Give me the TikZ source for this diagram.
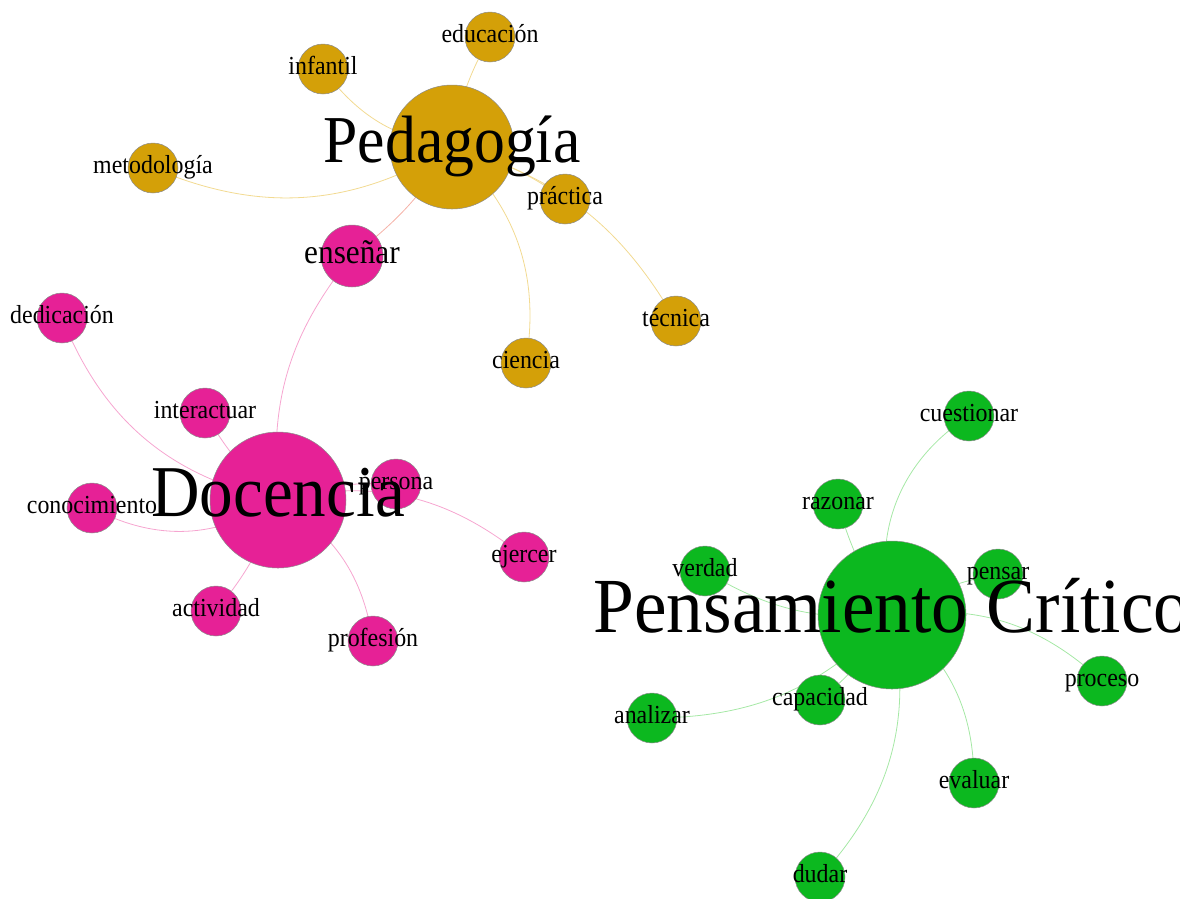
\documentclass[tikz,border=0pt]{standalone}
\usepackage{fontspec}
\setmainfont{Liberation Serif}
\usetikzlibrary{backgrounds}
\definecolor{cgold}{RGB}{212,160,8}
\definecolor{cpink}{RGB}{230,33,150}
\definecolor{cgreen}{RGB}{12,184,31}
\definecolor{egold}{RGB}{242,218,145}
\definecolor{epink}{RGB}{246,165,208}
\definecolor{egreen}{RGB}{165,232,165}
\definecolor{esalmon}{RGB}{245,178,168}
\newcommand{\hsq}[1]{\scalebox{0.92}[1]{#1}}
\tikzset{
  dot/.style={circle, draw=black!45, line width=0.5pt, inner sep=0pt, minimum size=50pt},
  golddot/.style={dot, fill=cgold},
  pinkdot/.style={dot, fill=cpink},
  greendot/.style={dot, fill=cgreen},
  lbl/.style={inner sep=0pt, anchor=base, text=black, font=\fontsize{#1}{#1}\selectfont, yshift=-0.23*#1 pt},
  small/.style={lbl=26},
  ge/.style={draw=egold, line width=0.8pt},
  pe/.style={draw=epink, line width=0.8pt},
  gre/.style={draw=egreen, line width=0.8pt},
  se/.style={draw=esalmon, line width=0.8pt},
}
\begin{document}
\begin{tikzpicture}[x=1pt,y=-1pt]
\useasboundingbox (0,0) rectangle (1180,898);
\clip (0,0) rectangle (1180,898);
% circles
\node[golddot, minimum size=124pt] (ped) at (452,147) {};
\node[golddot] (edu) at (490,37) {};
\node[golddot] (inf) at (323,69) {};
\node[golddot] (met) at (153,168) {};
\node[golddot] (pra) at (565,199) {};
\node[golddot] (tec) at (676,321) {};
\node[golddot] (cie) at (526,363) {};
\node[pinkdot, minimum size=136pt] (doc) at (278,500) {};
\node[pinkdot, minimum size=62pt] (ens) at (352,256) {};
\node[pinkdot] (ded) at (62,318) {};
\node[pinkdot] (int) at (205,413) {};
\node[pinkdot] (per) at (396,484) {};
\node[pinkdot] (con) at (92,508) {};
\node[pinkdot] (eje) at (524,557) {};
\node[pinkdot] (act) at (216,611) {};
\node[pinkdot] (pro) at (373,641) {};
\node[greendot, minimum size=148pt] (pc) at (892,615) {};
\node[greendot] (cue) at (969,416) {};
\node[greendot] (raz) at (838,504) {};
\node[greendot] (ver) at (705,571) {};
\node[greendot] (pen) at (998,574) {};
\node[greendot] (proc) at (1102,681) {};
\node[greendot] (cap) at (820,700) {};
\node[greendot] (ana) at (652,718) {};
\node[greendot] (eva) at (974,783) {};
\node[greendot] (dud) at (820,877) {};
% edges
\begin{scope}[on background layer]
\draw[ge] (ped.center) to[bend left=10] (edu.center);
\draw[ge] (ped.center) to[bend left=22] (inf.center);
\draw[ge] (ped.center) to[bend left=27] (met.center);
\draw[ge] (ped.center) to[bend left=10] (pra.center);
\draw[ge] (ped.center) to[bend left=22] (tec.center);
\draw[ge] (ped.center) to[bend left=28] (cie.center);
\draw[se] (ped.center) to[bend left=10] (ens.center);
\draw[pe] (doc.center) to[bend left=22] (ens.center);
\draw[pe] (doc.center) to[bend left=28] (ded.center);
\draw[pe] (doc.center) to[bend left=10] (int.center);
\draw[pe] (doc.center) to[bend left=10] (per.center);
\draw[pe] (doc.center) to[bend left=30] (con.center);
\draw[pe] (doc.center) to[bend left=26] (eje.center);
\draw[pe] (doc.center) to[bend left=10] (act.center);
\draw[pe] (doc.center) to[bend left=25] (pro.center);
\draw[gre] (pc.center) to[bend left=36] (cue.center);
\draw[gre] (pc.center) to[bend left=10] (raz.center);
\draw[gre] (pc.center) to[bend left=18] (ver.center);
\draw[gre] (pc.center) to[bend left=10] (pen.center);
\draw[gre] (pc.center) to[bend left=25] (proc.center);
\draw[gre] (pc.center) to[bend left=10] (cap.center);
\draw[gre] (pc.center) to[bend left=23] (ana.center);
\draw[gre] (pc.center) to[bend left=26] (eva.center);
\draw[gre] (pc.center) to[bend left=27] (dud.center);
\end{scope}
% labels
\node[small] (edu-l) at (edu.center) {\hsq{educación}};
\node[small] (inf-l) at (inf.center) {\hsq{infantil}};
\node[small] (met-l) at (met.center) {\hsq{metodología}};
\node[small] (pra-l) at (pra.center) {\hsq{práctica}};
\node[small] (tec-l) at (tec.center) {\hsq{técnica}};
\node[small] (cie-l) at (cie.center) {\hsq{ciencia}};
\node[small] (ded-l) at (ded.center) {\hsq{dedicación}};
\node[small] (int-l) at (int.center) {\hsq{interactuar}};
\node[small] (con-l) at (con.center) {\hsq{conocimiento}};
\node[small] (eje-l) at (eje.center) {\hsq{ejercer}};
\node[small] (act-l) at (act.center) {\hsq{actividad}};
\node[small] (pro-l) at (pro.center) {\hsq{profesión}};
\node[small] (cue-l) at (cue.center) {\hsq{cuestionar}};
\node[small] (raz-l) at (raz.center) {\hsq{razonar}};
\node[small] (ver-l) at (ver.center) {\hsq{verdad}};
\node[small] (pen-l) at (pen.center) {\hsq{pensar}};
\node[small] (proc-l) at (proc.center) {\hsq{proceso}};
\node[small] (cap-l) at (cap.center) {\hsq{capacidad}};
\node[small] (ana-l) at (ana.center) {\hsq{analizar}};
\node[small] (eva-l) at (eva.center) {\hsq{evaluar}};
\node[small] (dud-l) at (dud.center) {\hsq{dudar}};
\node[lbl=34] (ens-l) at (ens.center) {\hsq{enseñar}};
\node[lbl=67] (ped-l) at (ped.center) {\hsq{Pedagogía}};
\node[lbl=73] (doc-l) at (doc.center) {\hsq{Docencia}};
\node[small] (per-l) at (per.center) {\hsq{persona}};
\node[lbl=78] (pc-l) at (pc.center) {\scalebox{0.94}[1]{Pensamiento Crítico}};
\end{tikzpicture}
\end{document}
